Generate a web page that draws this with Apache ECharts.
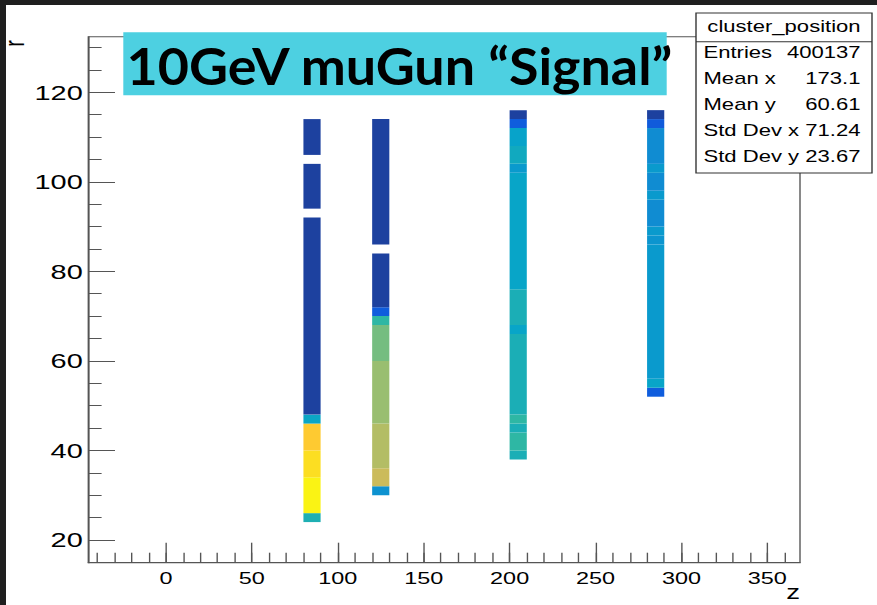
<!DOCTYPE html>
<html>
<head>
<meta charset="utf-8">
<script src="https://cdn.jsdelivr.net/npm/echarts@6/dist/echarts.min.js"></script>
<style>
  html, body { margin: 0; padding: 0; background: #fff; overflow: hidden; }
  #wrap { position: relative; width: 877px; height: 605px; overflow: hidden; }
  /* the ROOT canvas is shown stretched sideways */
  #chart { width: 636px; height: 605px; transform: scaleX(1.378931); transform-origin: 0 0; }
</style>
</head>
<body>
<div id="wrap"><div id="chart"></div></div>
<script>
// z bins (cm) holding hits, and per-column r bins: [rLow, rHigh, relative occupancy]
const zBins = [[80, 90], [120, 130], [200, 210], [280, 290]];

const colZ85 = [
  [24, 26, 0.45], [26, 34, 0.98], [34, 40, 0.93], [40, 46, 0.88], [46, 48, 0.39],
  [48, 92, 0.0], [94, 104, 0.0], [106, 114, 0.0]
];
const colZ125 = [
  [30, 32, 0.31], [32, 36, 0.74], [36, 46, 0.70], [46, 60, 0.655], [60, 68, 0.60],
  [68, 70, 0.50], [70, 72, 0.13], [72, 84, 0.0], [86, 114, 0.0]
];
const colZ205 = [
  [38, 40, 0.44], [40, 44, 0.50], [44, 46, 0.44], [46, 48, 0.50], [48, 66, 0.44],
  [66, 68, 0.38], [68, 76, 0.44], [76, 102, 0.38], [102, 104, 0.34], [104, 108, 0.41],
  [108, 112, 0.37], [112, 114, 0.13], [114, 116, 0.0]
];
const colZ285 = [
  [52, 54, 0.13], [54, 56, 0.38], [56, 86, 0.34], [86, 88, 0.32], [88, 90, 0.34],
  [90, 96, 0.29], [96, 98, 0.34], [98, 102, 0.29], [102, 104, 0.34], [104, 112, 0.29],
  [112, 114, 0.12], [114, 116, 0.0]
];
const columns = [colZ85, colZ125, colZ205, colZ285];

// axis ticks
const xMajorTicks = [0, 50, 100, 150, 200, 250, 300, 350];
const xMinorTicks = [-40, -30, -20, -10, 0, 10, 20, 30, 40, 50, 60, 70, 80, 90, 100, 110, 120, 130, 140,
  150, 160, 170, 180, 190, 200, 210, 220, 230, 240, 250, 260, 270, 280, 290, 300, 310, 320, 330, 340, 350, 360];
const yMajorTicks = [20, 40, 60, 80, 100, 120];
const yMinorTicks = [15, 20, 25, 30, 35, 40, 45, 50, 55, 60, 65, 70, 75, 80, 85, 90, 95, 100, 105, 110,
  115, 120, 125, 130];

// statistics box
const statsTitle = 'cluster_position';
const statsNames = ['Entries', 'Mean x', 'Mean y', 'Std Dev x', 'Std Dev y'];
const statsValues = ['400137', '173.1', '60.61', '71.24', '23.67'];

const titleText = '10GeV muGun \u201cSignal\u201d';

// kBird palette
const birdColors = ['#1d419f', '#0f5cdd', '#1481d6', '#06a4ca', '#2eb7a4', '#87bf77', '#d1bb59', '#fec832', '#f9fb0e'];

const SX = 877 / 636;          // sideways stretch of the canvas
const px = v => v / SX;        // page x -> canvas x

const cells = [];
zBins.forEach((zb, i) => {
  columns[i].forEach(c => cells.push([zb[0], zb[1], c[0], c[1], c[2]]));
});

const axisColor = '#555';
const labelFont = '"Liberation Sans", Arial, sans-serif';

const chart = echarts.init(document.getElementById('chart'), null, { renderer: 'svg' });

const statsGraphics = [];
const rowY = [52.7, 78.8, 104.6, 130.8, 156.8];
statsGraphics.push({
  type: 'rect', z: 100, shape: { x: px(696), y: 13, width: px(176), height: 160 },
  style: { fill: '#fff', stroke: '#333', lineWidth: 1 }
});
statsGraphics.push({
  type: 'line', z: 101, shape: { x1: px(696), y1: 41.7, x2: px(872), y2: 41.7 },
  style: { stroke: '#333', lineWidth: 1 }
});
statsGraphics.push({
  type: 'text', z: 102, x: px(784), y: 26.5,
  style: { text: statsTitle, font: '16px ' + labelFont, fill: '#000', align: 'center', verticalAlign: 'middle' }
});
statsNames.forEach((n, i) => {
  statsGraphics.push({
    type: 'text', z: 102, x: px(703.5), y: rowY[i],
    style: { text: n, font: '16px ' + labelFont, fill: '#000', align: 'left', verticalAlign: 'middle' }
  });
  statsGraphics.push({
    type: 'text', z: 102, x: px(860.5), y: rowY[i],
    style: { text: statsValues[i], font: '16px ' + labelFont, fill: '#000', align: 'right', verticalAlign: 'middle' }
  });
});

chart.setOption({
  animation: false,
  backgroundColor: '#fff',
  grid: {
    left: px(88.3), right: px(877 - 800), top: 36.7, bottom: 605 - 562.7,
    show: true, borderColor: axisColor, borderWidth: 1, backgroundColor: 'transparent'
  },
  visualMap: {
    type: 'continuous', show: false, min: 0, max: 1, dimension: 4, seriesIndex: 0,
    inRange: { color: birdColors }
  },
  xAxis: [{
    type: 'value', min: -45.2, max: 369,
    axisLine: { show: true, onZero: false, lineStyle: { color: axisColor, width: 1 } },
    axisTick: { show: true, inside: true, length: 20, customValues: xMajorTicks, lineStyle: { color: axisColor } },
    axisLabel: { show: true, customValues: xMajorTicks, margin: 7, fontSize: 17, fontFamily: labelFont, color: '#000' },
    splitLine: { show: false }
  }, {
    type: 'value', min: -45.2, max: 369, position: 'bottom', offset: 0,
    axisLine: { show: false, onZero: false },
    axisTick: { show: true, inside: true, length: 10, customValues: xMinorTicks, lineStyle: { color: axisColor } },
    axisLabel: { show: false },
    splitLine: { show: false }
  }],
  yAxis: [{
    type: 'value', min: 14.93, max: 132.4, position: 'left',
    axisLine: { show: true, onZero: false, lineStyle: { color: axisColor, width: 1 } },
    axisTick: { show: true, inside: true, length: px(26.7), customValues: yMajorTicks, lineStyle: { color: axisColor } },
    axisLabel: { show: true, customValues: yMajorTicks, margin: px(5.5), fontSize: 21, fontFamily: labelFont, color: '#000' },
    splitLine: { show: false }
  }, {
    type: 'value', min: 14.93, max: 132.4, position: 'left', offset: 0,
    axisLine: { show: false, onZero: false },
    axisTick: { show: true, inside: true, length: px(13.3), customValues: yMinorTicks, lineStyle: { color: axisColor } },
    axisLabel: { show: false },
    splitLine: { show: false }
  }],
  series: [{
    type: 'custom',
    xAxisIndex: 0, yAxisIndex: 0,
    data: cells,
    encode: { x: [0, 1], y: [2, 3] },
    renderItem: function (params, api) {
      const tl = api.coord([api.value(0), api.value(3)]);
      const br = api.coord([api.value(1), api.value(2)]);
      return {
        type: 'rect',
        shape: { x: tl[0], y: tl[1], width: br[0] - tl[0], height: br[1] - tl[1] },
        style: { fill: api.visual('color') }
      };
    }
  }],
  graphic: [
    // dark margin along the top and left edge
    { type: 'rect', z: 200, shape: { x: 0, y: 0, width: 636, height: 5 }, style: { fill: '#1f1f1f' } },
    { type: 'rect', z: 200, shape: { x: 0, y: 0, width: px(6), height: 605 }, style: { fill: '#1f1f1f' } },
    // axis titles
    { type: 'text', z: 50, x: px(14), y: 40, rotation: Math.PI / 2,
      style: { text: 'r', font: '20px ' + labelFont, fill: '#000', align: 'right', verticalAlign: 'middle' } },
    { type: 'text', z: 50, x: px(800), y: 592,
      style: { text: 'z', font: '20px ' + labelFont, fill: '#000', align: 'right', verticalAlign: 'middle' } },
    // banner
    { type: 'rect', z: 100, shape: { x: px(123.3), y: 32.3, width: px(666.7 - 123.3), height: 63 },
      style: { fill: '#4dd0e1' } },
    { type: 'text', z: 101, x: px(126.5), y: 64.5, scaleX: 1.035 / SX,
      style: { text: titleText, font: 'bold 52px Lato, sans-serif', fill: '#000', align: 'left', verticalAlign: 'middle' } }
  ].concat(statsGraphics)
});
</script>
</body>
</html>
